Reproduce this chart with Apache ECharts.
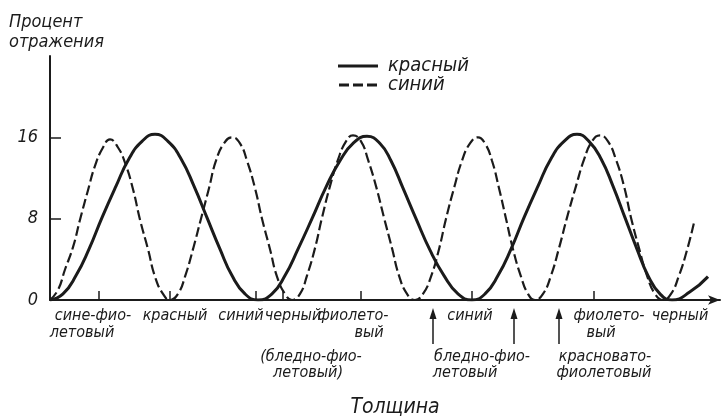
<!DOCTYPE html>
<html>
<head>
<meta charset="utf-8">
<script src="https://cdn.jsdelivr.net/npm/echarts@6/dist/echarts.min.js"></script>
<style>
html,body{margin:0;padding:0;background:#fff;}
#c{width:723px;height:417px;}
</style>
</head>
<body>
<div id="c"></div>
<script>
// Thickness (arbitrary units) and reflection percent
const redX  = [0, 13, 26, 39, 52, 66, 79, 92, 105, 118, 131, 144, 157, 170, 182, 195, 208, 222, 235, 248, 262, 276, 290, 304, 317, 330, 341, 353, 366, 380, 394, 408, 422, 435, 448, 461, 474, 488, 501, 514, 527, 539, 551, 563, 575, 587, 598, 610, 622, 640, 658];
const redY  = [0, 0.6, 2.4, 5.0, 8.1, 11.2, 13.9, 15.6, 16.3, 15.6, 13.9, 11.2, 8.1, 5.0, 2.4, 0.6, 0, 0.6, 2.4, 5.0, 8.0, 11.1, 13.7, 15.5, 16.1, 15.4, 13.7, 11.0, 8.0, 4.9, 2.4, 0.6, 0, 0.6, 2.4, 5.0, 8.1, 11.2, 13.9, 15.6, 16.3, 15.6, 13.9, 11.2, 8.1, 5.0, 2.4, 0.6, 0, 0.8, 2.3];
const blueX = [0, 8, 15, 23, 30, 38, 45, 53, 60, 68, 75, 83, 90, 98, 105, 113, 120, 128, 135, 143, 151, 159, 166, 174, 182, 190, 197, 205, 212, 220, 227, 235, 242, 250, 257, 265, 272, 280, 288, 296, 303, 311, 318, 326, 334, 342, 349, 357, 365, 373, 381, 389, 396, 404, 412, 420, 428, 435, 442, 449, 456, 463, 471, 478, 485, 493, 501, 509, 517, 526, 534, 542, 550, 558, 566, 574, 581, 589, 597, 605, 613, 621, 629, 637, 644];
const blueY = [0, 1.0, 3.0, 5.2, 7.9, 10.8, 13.2, 15.0, 15.8, 15.0, 13.5, 10.9, 7.9, 5.0, 2.3, 0.6, 0, 0.6, 2.3, 5.0, 8.0, 11.0, 13.7, 15.4, 16.0, 15.4, 13.7, 11.0, 8.0, 5.0, 2.3, 0.6, 0, 0.6, 2.4, 5.1, 8.1, 11.2, 13.8, 15.6, 16.2, 15.6, 13.8, 11.2, 8.1, 5.1, 2.4, 0.6, 0, 0.6, 2.3, 5.0, 8.0, 11.0, 13.7, 15.4, 16.0, 15.4, 13.7, 11.0, 8.0, 5.0, 2.3, 0.6, 0, 0.6, 2.4, 5.1, 8.1, 11.2, 13.8, 15.6, 16.2, 15.6, 13.8, 11.2, 8.1, 5.1, 2.4, 0.6, 0, 0.6, 2.4, 4.9, 7.6];
const seriesNames = ['красный', 'синий'];
const yTicks = [0, 8, 16];
const yTickMarks = [8, 16];
const xTicks = [49, 120, 206, 233, 311, 422, 544];
const xArrows = [383, 464, 509];
const xLabelTexts = ['сине-фио-', 'летовый', 'красный', 'синий', 'черный', 'фиолето-', 'вый', '(бледно-фио-', 'летовый)', 'синий', 'бледно-фио-', 'летовый', 'фиолето-', 'вый', 'красновато-', 'фиолетовый', 'черный'];
const xLabelAt    = [43, 32, 125, 191, 243, 303, 319, 261, 258, 420, 432, 415, 559, 551, 555, 554, 630];
const xLabelRow   = [0, 1, 0, 0, 0, 0, 1, 2, 3, 0, 2, 3, 0, 1, 2, 3, 0];
const yName = ['Процент', 'отражения'];
const xName = 'Толщина';

const INK = '#1b1b1b';
const FONT = "'DejaVu Sans Condensed', 'DejaVu Sans', sans-serif";
const rowOffset = [16, 33, 57, 73];
const solidIcon = 'path://M0,0H40V3H0Z';
const dashIcon = 'path://M0,0H10V3H0Z M14,0H24V3H14Z M28,0H38V3H28Z';

const chart = echarts.init(document.getElementById('c'), null, {renderer: 'canvas'});
const zip = (xs, ys) => xs.map((x, i) => [x, ys[i]]);

chart.setOption({
  backgroundColor: '#ffffff',
  animation: false,
  grid: {left: 50, right: 3, top: 56, bottom: 117},
  legend: {
    left: 338, top: 56, orient: 'vertical', padding: 0,
    itemWidth: 40, itemHeight: 3, itemGap: -1,
    data: [
      {name: seriesNames[0], icon: solidIcon},
      {name: seriesNames[1], icon: dashIcon}
    ],
    itemStyle: {color: INK, borderWidth: 0},
    lineStyle: {width: 0, opacity: 0},
    textStyle: {fontFamily: FONT, fontStyle: 'italic', fontSize: 20, color: INK, padding: [0, 0, 0, 5], lineHeight: 16}
  },
  xAxis: {
    type: 'value', min: 0, max: 670,
    axisLine: {show: true, onZero: false, lineStyle: {color: INK, width: 2}, symbol: ['none', 'arrow'], symbolSize: [7, 12]},
    axisTick: {show: true, inside: true, length: 9, customValues: xTicks, lineStyle: {color: INK, width: 1.5}},
    axisLabel: {show: false},
    splitLine: {show: false}
  },
  yAxis: {
    type: 'value', min: 0, max: 24, interval: 8,
    axisLine: {show: true, lineStyle: {color: INK, width: 2}},
    axisTick: {show: true, inside: true, length: 11, customValues: yTickMarks, lineStyle: {color: INK, width: 1.5}},
    axisLabel: {show: true, customValues: yTicks, margin: 12, fontFamily: FONT, fontStyle: 'italic', fontSize: 18, color: INK},
    splitLine: {show: false}
  },
  series: [
    {name: seriesNames[0], type: 'line', data: zip(redX, redY), smooth: 0.5, symbol: 'none', showSymbol: false,
     lineStyle: {color: INK, width: 3}, itemStyle: {color: INK}, z: 3},
    {name: seriesNames[1], type: 'line', data: zip(blueX, blueY), smooth: 0.5, symbol: 'none', showSymbol: false,
     lineStyle: {color: INK, width: 2.2, type: [10, 4]}, itemStyle: {color: INK}, z: 2}
  ]
});

function drawAnnotations() {
  const y0 = chart.convertToPixel({yAxisIndex: 0}, 0);
  const px = v => chart.convertToPixel({xAxisIndex: 0}, v);
  const g = [];
  xLabelTexts.forEach((t, i) => {
    g.push({type: 'text', x: px(xLabelAt[i]), y: y0 + rowOffset[xLabelRow[i]],
      style: {text: t, fill: INK, font: "italic 16px " + FONT, align: 'center', verticalAlign: 'middle'}});
  });
  xArrows.forEach(v => {
    const x = px(v);
    g.push({type: 'line', shape: {x1: x, y1: y0 + 16, x2: x, y2: y0 + 44}, style: {stroke: INK, lineWidth: 1.5}});
    g.push({type: 'polygon', shape: {points: [[x, y0 + 8], [x - 3.5, y0 + 19], [x + 3.5, y0 + 19]]}, style: {fill: INK}});
  });
  yName.forEach((t, i) => {
    g.push({type: 'text', x: 9, y: 22 + i * 20,
      style: {text: t, fill: INK, font: "italic 18px " + FONT, align: 'left', verticalAlign: 'middle'}});
  });
  g.push({type: 'text', x: 395, y: 408,
    style: {text: xName, fill: INK, font: "italic 21px " + FONT, align: 'center', verticalAlign: 'middle'}});
  chart.setOption({graphic: g});
}
drawAnnotations();
</script>
</body>
</html>
